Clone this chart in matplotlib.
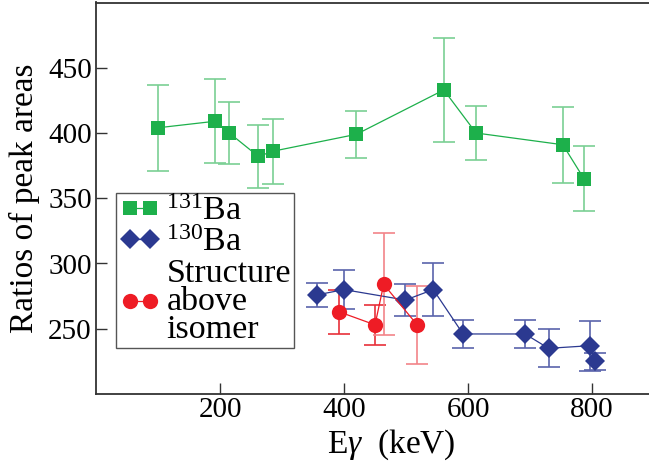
import matplotlib
matplotlib.use("Agg")
import matplotlib.pyplot as plt

# === DATA ===
# 131Ba
e_131 = [100, 192, 215, 262, 285, 420, 561, 613, 753, 787]
r_131 = [404, 409, 400, 382, 386, 399, 433, 400, 391, 365]
err_131 = [33, 32, 24, 24, 25, 18, 40, 21, 29, 25]

# 130Ba
e_130 = [357, 400, 499, 544, 592, 692, 730, 796, 805]
r_130 = [276, 280, 272, 280, 246, 246, 235, 237, 225]
err_130 = [9, 15, 12.5, 20, 11, 10.5, 14.5, 19, 6.5]

# structure above isomer
e_iso = [392, 450, 464, 518]
r_iso = [263, 253, 284, 253]
err_iso = [17, 15.5, 39, 30]

x_ticks = [200, 400, 600, 800]
y_ticks = [250, 300, 350, 400, 450]

# === STYLE ===
plt.rcParams["font.family"] = ["Liberation Serif", "DejaVu Serif"]
plt.rcParams["mathtext.fontset"] = "custom"
plt.rcParams["mathtext.rm"] = "Liberation Serif"
plt.rcParams["mathtext.it"] = "Liberation Serif:italic"

W, H = 649, 474
fig = plt.figure(figsize=(W / 100, H / 100), dpi=100)
ax = fig.add_axes([96 / W, 1 - 394 / H, 558 / W, 391.5 / H])

# error bar colour per point (the isomer bars are not all the same shade)
ecols_131 = ["#7ACF94"] * len(e_131)
ecols_130 = ["#5A63AC"] * len(e_130)
ecols_iso = ["#E8303A", "#E8303A", "#F28489", "#F28489"]

series = [
    (e_131, r_131, err_131, ecols_131, "s", 9.6, "#1DB04B", "$^{131}$Ba"),
    (e_130, r_130, err_130, ecols_130, "D", 10, "#2B3990", "$^{130}$Ba"),
    (e_iso, r_iso, err_iso, ecols_iso, "o", 11, "#EE1C25", "Structure\nabove\nisomer"),
]

for x, y, err, ecols, marker, ms, col, label in series:
    for xi, yi, ei, ec in zip(x, y, err, ecols):
        ax.errorbar(xi, yi, yerr=ei, fmt="none", ecolor=ec, elinewidth=1.2,
                    capsize=8, capthick=1.2, zorder=2)
    ax.plot(x, y, marker=marker, ms=ms, color=col, lw=0.9, mew=0,
            label=label, zorder=3)

ax.set_xlim(0, 900)
ax.set_ylim(200, 500)
ax.set_xticks(x_ticks)
ax.set_yticks(y_ticks)

ax.tick_params(direction="in", length=7.7, width=1, color="#333333",
               labelsize=21, pad=3)
ax.tick_params(axis="x", pad=2.5)
for side in ["left", "top", "bottom"]:
    ax.spines[side].set_color("#333333")
    ax.spines[side].set_linewidth(1.3)
ax.spines["right"].set_visible(False)

ax.set_xlabel("E$\\gamma$  (keV)", fontsize=24)
ax.xaxis.set_label_coords(0.529, -0.085)
ax.set_ylabel("Ratios of peak areas", fontsize=24)
ax.yaxis.set_label_coords(-0.10, 0.5)

leg = ax.legend(loc="upper left", bbox_to_anchor=(0.036, 0.513),
                borderaxespad=0, fontsize=24.5, numpoints=2, handlelength=1.2,
                handletextpad=0.18, labelspacing=0.0, borderpad=0.1,
                fancybox=False, framealpha=1, edgecolor="#555555")
leg.get_frame().set_linewidth(1.0)
for t in leg.get_texts():
    t.set_linespacing(0.9)

fig.savefig("out.png", dpi=100)
